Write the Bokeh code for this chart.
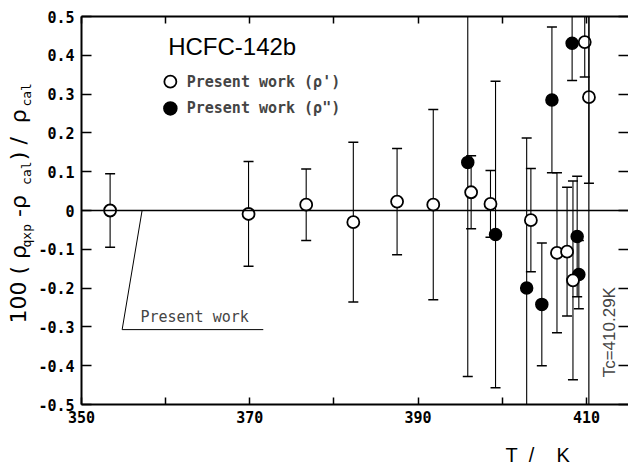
import numpy as np
from bokeh.plotting import figure
from bokeh.models import Label, Span, LinearAxis, FixedTicker, Range1d, ColumnDataSource, Title
from bokeh.embed import file_html
from bokeh.resources import INLINE

# ---- data ----
T_liq = [353.4, 369.85, 376.7, 382.3, 387.5, 391.8, 396.3, 398.6, 403.4, 406.5, 407.7, 408.4, 409.8, 410.3]
dev_liq = [0.000, -0.009, 0.015, -0.030, 0.023, 0.015, 0.047, 0.017, -0.025, -0.109, -0.106, -0.180, 0.434, 0.292]
err_liq = [0.095, 0.135, 0.092, 0.206, 0.137, 0.245, 0.094, 0.086, 0.133, 0.206, 0.166, 0.256, 0.090, 0.222]

T_vap = [395.9, 399.2, 402.9, 404.7, 405.9, 408.3, 408.9, 409.1]
dev_vap = [0.124, -0.062, -0.200, -0.242, 0.285, 0.431, -0.067, -0.165]
err_vap = [0.552, 0.395, 0.387, 0.158, 0.188, 0.096, 0.155, 0.088]

x_major_ticks = [350, 370, 390, 410]
x_major_labels = ["350", "370", "390", "410"]
x_minor_ticks = [360, 380, 400]
x_all_ticks = [350, 360, 370, 380, 390, 400, 410]
y_ticks = [-0.5, -0.4, -0.3, -0.2, -0.1, 0.0, 0.1, 0.2, 0.3, 0.4, 0.5]
y_tick_labels = ["-0.5", "-0.4", "-0.3", "-0.2", "-0.1", "0", "0.1", "0.2", "0.3", "0.4", "0.5"]
T_critical = 410.29

MONO = "DejaVu Sans Mono"
SANS = "DejaVu Sans"
NB = "\u00a0"

p = figure(width=628, height=464, x_range=Range1d(350, 415), y_range=Range1d(-0.5, 0.5),
           x_axis_type=None, y_axis_type=None,
           output_backend="svg", toolbar_location=None,
           min_border_left=81, min_border_right=0, min_border_top=16, min_border_bottom=60)
p.outline_line_color = None
p.background_fill_color = "white"
p.border_fill_color = "white"


def labelled_axis(ticks, labels, minor, tick_in, standoff):
    return LinearAxis(ticker=FixedTicker(ticks=ticks, minor_ticks=minor),
                      major_label_overrides=dict(zip(ticks, labels)),
                      major_tick_in=tick_in, major_tick_out=0,
                      minor_tick_in=tick_in, minor_tick_out=0,
                      major_tick_line_width=1.5, minor_tick_line_width=1.5,
                      major_tick_line_color="black", minor_tick_line_color="black",
                      axis_line_width=2, axis_line_color="black",
                      major_label_text_font=MONO, major_label_text_font_style="bold",
                      major_label_text_font_size="15px", major_label_text_color="black",
                      major_label_standoff=standoff)


def tick_only_axis(minor, tick_in, line=True):
    # no major ticks -> no labels; the inward marks are drawn as minor ticks
    return LinearAxis(ticker=FixedTicker(ticks=[], minor_ticks=minor),
                      major_tick_in=0, major_tick_out=0,
                      minor_tick_in=tick_in, minor_tick_out=0,
                      minor_tick_line_width=1.5, minor_tick_line_color="black",
                      axis_line_width=2, axis_line_color="black" if line else None,
                      major_label_standoff=0)


p.add_layout(labelled_axis(x_major_ticks, x_major_labels, x_minor_ticks, 7, 6), "below")
p.add_layout(tick_only_axis(x_all_ticks, 7), "above")
p.add_layout(labelled_axis(y_ticks, y_tick_labels, [], 10, 7), "left")
p.add_layout(tick_only_axis(y_ticks, 10, line=False), "right")

# y-axis label: subscripts (inner column) and main text (outer column)
sub_text = "qxp" + NB * 5 + "cal" + NB * 7 + "cal"
main_text = "100" + NB + "(" + NB + "ρ" + NB * 4 + "-ρ" + NB * 5 + ")" + NB + "/" + NB * 2 + "ρ"
p.add_layout(Title(text=sub_text, align="left", offset=157, standoff=2.6, vertical_align="bottom",
                   text_font=MONO, text_font_size="13px", text_font_style="normal",
                   text_color="black"), "left")
p.add_layout(Title(text=main_text, align="left", offset=81, standoff=-30, vertical_align="bottom",
                   text_font=SANS, text_font_size="22px", text_font_style="normal",
                   text_color="black"), "left")

# x-axis label (an empty first line pushes it down to the bottom edge)
p.add_layout(Title(text="\n" + "T" + NB * 2 + "/" + NB * 4 + "K", align="left", offset=424, standoff=-2,
                   vertical_align="bottom", text_font="Liberation Sans", text_font_size="20px",
                   text_line_height=0.75, text_font_style="normal", text_color="black"), "below")

# zero line and critical temperature line
p.add_layout(Span(location=0, dimension="width", line_color="black", line_width=1.6))
p.add_layout(Span(location=T_critical, dimension="height", line_color="black", line_width=1.2))

# error bars
for T, d, e in ((T_liq, dev_liq, err_liq), (T_vap, dev_vap, err_vap)):
    Ta = np.array(T); da = np.array(d); ea = np.array(e)
    src = ColumnDataSource(dict(x=Ta, lo=da - ea, hi=da + ea))
    p.segment(x0="x", y0="lo", x1="x", y1="hi", source=src, line_color="black", line_width=1.1)
    p.scatter(x="x", y="lo", source=src, marker="dash", size=10, line_color="black", line_width=1.5)
    p.scatter(x="x", y="hi", source=src, marker="dash", size=10, line_color="black", line_width=1.5)

p.scatter(T_vap, dev_vap, marker="circle", size=12, fill_color="black", line_color="black", line_width=1.5)
p.scatter(T_liq, dev_liq, marker="circle", size=12, fill_color="white", line_color="black", line_width=1.8)

# title and legend
p.add_layout(Label(x=360.3, y=0.423, text="HCFC-142b", text_font="Liberation Sans",
                   text_font_size="24px", text_baseline="middle", text_color="black"))
legend_x = [360.56, 360.56]
legend_y = [0.332, 0.263]
p.scatter([legend_x[0]], [legend_y[0]], marker="circle", size=12, fill_color="white",
          line_color="black", line_width=1.8)
p.scatter([legend_x[1]], [legend_y[1]], marker="circle", size=13, fill_color="black",
          line_color="black", line_width=1.5)
p.add_layout(Label(x=362.5, y=legend_y[0], text="Present work (ρ')", text_font=MONO,
                   text_font_style="bold", text_font_size="15px", text_baseline="middle"))
p.add_layout(Label(x=362.5, y=legend_y[1], text='Present work (ρ")', text_font=MONO,
                   text_font_style="bold", text_font_size="15px", text_baseline="middle"))

# "Present work" pointer annotation
p.line([357.2, 354.83, 371.6], [0.0, -0.307, -0.307], line_color="black", line_width=1)
p.add_layout(Label(x=357.0, y=-0.275, text="Present work", text_font=MONO,
                   text_font_size="15px", text_baseline="middle"))

# Tc label
p.add_layout(Label(x=412.75, y=-0.43, text="Tc=410.29K", text_font="Liberation Sans",
                   text_font_size="17px", angle=90, angle_units="deg",
                   text_align="left", text_baseline="alphabetic"))

open("out.html", "w").write(file_html(p, INLINE))
